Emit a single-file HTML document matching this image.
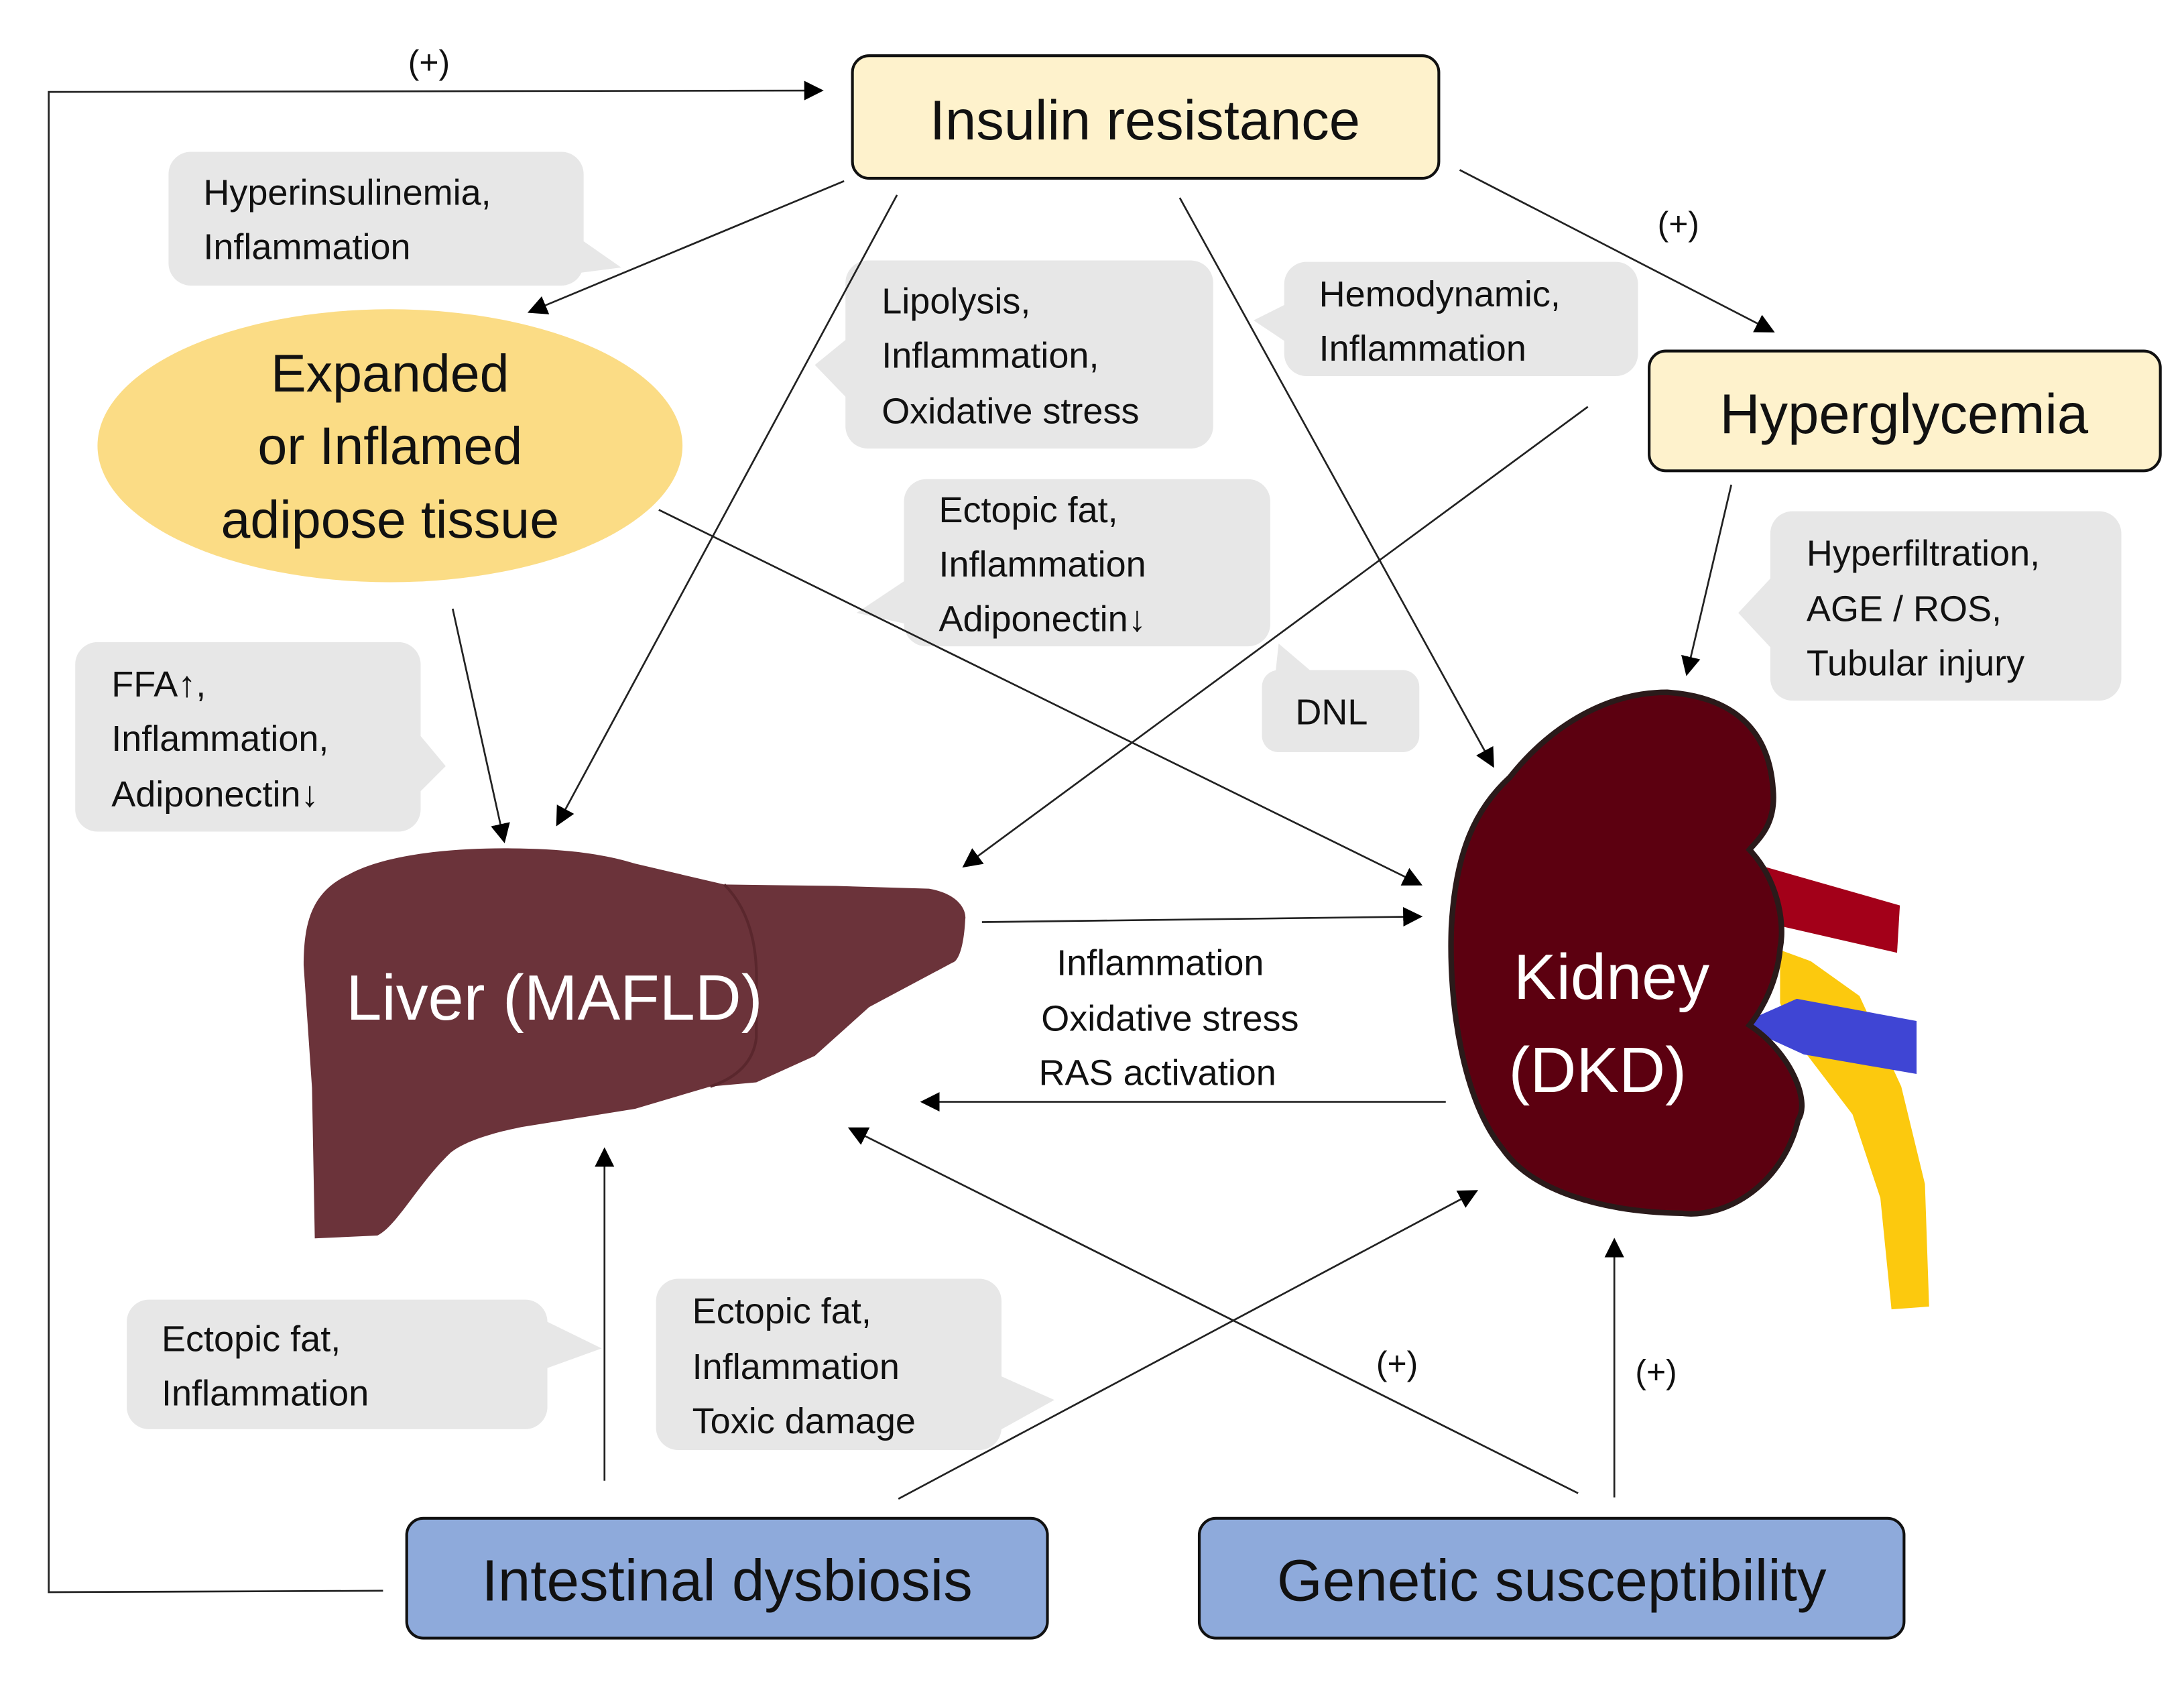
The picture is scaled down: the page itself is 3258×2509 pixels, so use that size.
<!DOCTYPE html>
<html><head><meta charset="utf-8"><style>
html,body{margin:0;padding:0;background:#fff;}
svg{display:block;}
text{font-family:"Liberation Sans",sans-serif;}
</style></head><body>
<svg width="3258" height="2509" viewBox="0 0 1568 1207.5" preserveAspectRatio="none" xmlns="http://www.w3.org/2000/svg">
<defs>
<marker id="a" viewBox="0 0 10 10" refX="9" refY="5" markerWidth="14" markerHeight="14" markerUnits="userSpaceOnUse" orient="auto">
<path d="M0,0 L10,5 L0,10 z" fill="#000"/></marker>
</defs>
<rect width="1568" height="1208" fill="#fff"/>

<!-- callouts -->
<g fill="#e7e7e7">
<rect x="121" y="109" width="298" height="96" rx="16"/><path d="M400,160 L446,192 L400,198z"/>
<rect x="607" y="187" width="264" height="135" rx="16"/><path d="M612,240 L585,262 L612,290z"/>
<rect x="922" y="188" width="254" height="82" rx="16"/><path d="M930,215 L900,230 L930,250z"/>
<rect x="649" y="344" width="263" height="120" rx="16"/><path d="M660,410 L615,440 L660,450z"/>
<rect x="906" y="481" width="113" height="59" rx="12"/><path d="M915,490 L918,462 L945,485z"/>
<rect x="1271" y="367" width="252" height="136" rx="16"/><path d="M1276,410 L1248,440 L1276,470z"/>
<rect x="54" y="461" width="248" height="136" rx="16"/><path d="M295,520 L320,550 L295,575z"/>
<rect x="91" y="933" width="302" height="93" rx="16"/><path d="M385,945 L432,968 L385,985z"/>
<rect x="471" y="918" width="248" height="123" rx="16"/><path d="M712,985 L757,1005 L712,1030z"/>
</g>
<g font-size="26" fill="#111">
<text x="146" y="147">Hyperinsulinemia,</text><text x="146" y="186">Inflammation</text>
<text x="633" y="225">Lipolysis,</text><text x="633" y="264">Inflammation,</text><text x="633" y="304">Oxidative stress</text>
<text x="947" y="220">Hemodynamic,</text><text x="947" y="259">Inflammation</text>
<text x="674" y="375">Ectopic fat,</text><text x="674" y="414">Inflammation</text><text x="674" y="453">Adiponectin↓</text>
<text x="930" y="520">DNL</text>
<text x="1297" y="406">Hyperfiltration,</text><text x="1297" y="446">AGE / ROS,</text><text x="1297" y="485">Tubular injury</text>
<text x="80" y="500">FFA↑,</text><text x="80" y="539">Inflammation,</text><text x="80" y="579">Adiponectin↓</text>
<text x="116" y="970">Ectopic fat,</text><text x="116" y="1009">Inflammation</text>
<text x="497" y="950">Ectopic fat,</text><text x="497" y="990">Inflammation</text><text x="497" y="1029">Toxic damage</text>
<text x="833" y="700" text-anchor="middle">Inflammation</text>
<text x="840" y="740" text-anchor="middle">Oxidative stress</text>
<text x="831" y="779" text-anchor="middle">RAS activation</text>
</g>
<g font-size="24" fill="#111" text-anchor="middle">
<text x="308" y="53">(+)</text><text x="1205" y="169">(+)</text>
<text x="1003" y="987">(+)</text><text x="1189" y="993">(+)</text>
</g>

<!-- liver -->
<path d="M362,609 C400,609 430,612 456,620 L520,635 L600,636 L667,638 C690,642 694,655 693,660 C692,680 688,690 684,691 L624,723 L585,758 L543,777 L510,780 L456,796 L375,809 C345,815 330,822 323,828 C300,850 285,880 271,887 L226,889 L224,781 L218,693 C218,660 225,640 250,628 C275,614 320,609 362,609 Z" fill="#6b333a"/>
<path d="M520,635 Q545,660 543,710 L543,745 Q540,770 510,780" fill="none" stroke="#5a272d" stroke-width="2"/>
<text x="398" y="732" font-size="46" fill="#fff" text-anchor="middle">Liver (MAFLD)</text>

<!-- kidney vessels -->
<path d="M1278,682 L1300,690 L1335,715 L1365,780 L1382,850 L1385,938 L1358,940 L1350,860 L1330,800 L1288,745 L1278,720 Z" fill="#fcc90e"/>
<path d="M1266,622 L1364,650 L1362,684 L1266,662 Z" fill="#a30019"/>
<path d="M1254,733 L1290,717 L1376,733 L1376,771 L1295,757 L1258,740 Z" fill="#3f45d4"/>
<path d="M1197,497 C1240,500 1270,520 1273,567 C1275,590 1265,600 1256,610 C1275,630 1282,660 1278,681 C1276,705 1265,725 1256,736 C1285,755 1300,790 1291,804 C1280,850 1240,875 1207,871 C1150,870 1100,855 1079,825 C1050,790 1040,720 1042,666 C1045,610 1060,580 1084,558 C1110,525 1150,497 1197,497 Z" fill="#5c0010" stroke="#2a1a1a" stroke-width="4"/>
<text x="1157" y="717" font-size="46" fill="#fff" text-anchor="middle">Kidney</text>
<text x="1147" y="784" font-size="46" fill="#fff" text-anchor="middle">(DKD)</text>

<!-- ellipse -->
<ellipse cx="280" cy="320" rx="210" ry="98" fill="#fbdc85"/>
<g font-size="38" fill="#111" text-anchor="middle">
<text x="280" y="281">Expanded</text><text x="280" y="333">or Inflamed</text><text x="280" y="386">adipose tissue</text>
</g>

<!-- boxes -->
<rect x="612" y="40" width="421" height="88" rx="12" fill="#fef2cc" stroke="#111" stroke-width="2"/>
<text x="822" y="100" font-size="40" text-anchor="middle" fill="#111">Insulin resistance</text>
<rect x="1184" y="252" width="367" height="86" rx="12" fill="#fef2cc" stroke="#111" stroke-width="2"/>
<text x="1367" y="311" font-size="40" text-anchor="middle" fill="#111">Hyperglycemia</text>
<rect x="292" y="1090" width="460" height="86" rx="12" fill="#8eaadb" stroke="#111" stroke-width="2"/>
<text x="522" y="1149" font-size="42" text-anchor="middle" fill="#111">Intestinal dysbiosis</text>
<rect x="861" y="1090" width="506" height="86" rx="12" fill="#8eaadb" stroke="#111" stroke-width="2"/>
<text x="1114" y="1149" font-size="42" text-anchor="middle" fill="#111">Genetic susceptibility</text>

<!-- arrows -->
<g stroke="#222" stroke-width="1.3" fill="none" marker-end="url(#a)">
<polyline points="275,1142 35,1143 35,66 590,65"/>
<line x1="606" y1="130" x2="380" y2="224"/>
<line x1="644" y1="140" x2="400" y2="592"/>
<line x1="847" y1="142" x2="1072" y2="550"/>
<line x1="1048" y1="122" x2="1273" y2="238"/>
<line x1="1140" y1="292" x2="692" y2="622"/>
<line x1="1243" y1="348" x2="1211" y2="484"/>
<line x1="325" y1="437" x2="362" y2="604"/>
<line x1="473" y1="366" x2="1020" y2="635"/>
<line x1="705" y1="662" x2="1020" y2="658"/>
<line x1="1038" y1="791" x2="662" y2="791"/>
<line x1="434" y1="1063" x2="434" y2="825"/>
<line x1="645" y1="1076" x2="1060" y2="855"/>
<line x1="1133" y1="1072" x2="610" y2="810"/>
<line x1="1159" y1="1075" x2="1159" y2="890"/>
</g>
</svg>
</body></html>
